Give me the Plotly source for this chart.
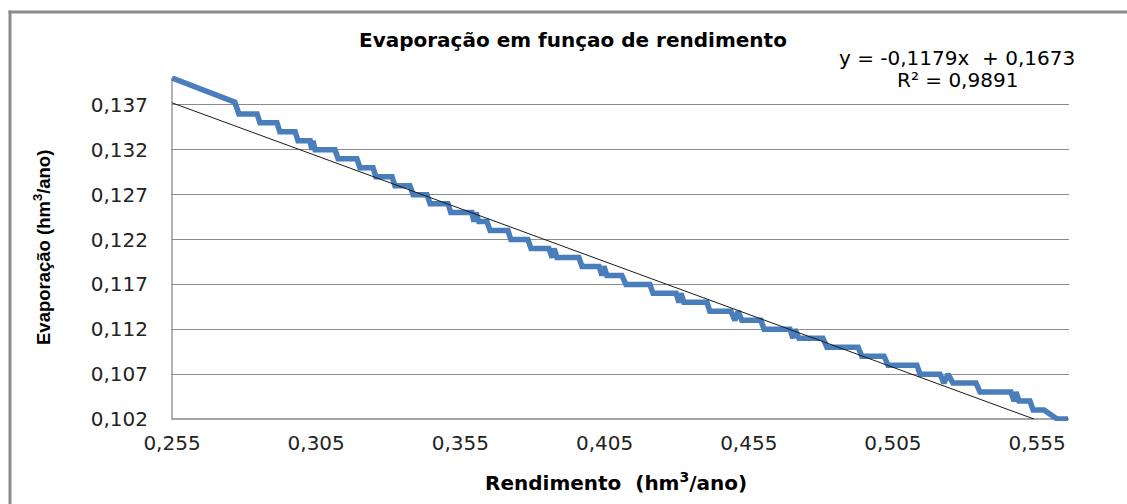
import plotly.graph_objects as go

# Rendimento (hm³/ano) vs evaporação (hm³/ano) along the simulated curve
rendimento = [
    0.2550, 0.2768, 0.2782, 0.2845, 0.2855, 0.2914, 0.2924, 0.2977, 0.2987,
    0.3029, 0.3035, 0.3039, 0.3046, 0.3115, 0.3126, 0.3191, 0.3202, 0.3247,
    0.3257, 0.3313, 0.3323, 0.3375, 0.3386, 0.3434, 0.3445, 0.3507, 0.3517,
    0.3590, 0.3597, 0.3604, 0.3614, 0.3642, 0.3653, 0.3715, 0.3725, 0.3784,
    0.3795, 0.3857, 0.3868, 0.3875, 0.3885, 0.3961, 0.3972, 0.4031, 0.4041,
    0.4048, 0.4058, 0.4110, 0.4124, 0.4207, 0.4218, 0.4298, 0.4308, 0.4315,
    0.4325, 0.4405, 0.4415, 0.4488, 0.4502, 0.4513, 0.4526, 0.4592, 0.4603,
    0.4693, 0.4703, 0.4710, 0.4724, 0.4807, 0.4821, 0.4929, 0.4942, 0.5019,
    0.5033, 0.5133, 0.5144, 0.5213, 0.5227, 0.5241, 0.5258, 0.5338, 0.5352,
    0.5459, 0.5470, 0.5477, 0.5487, 0.5525, 0.5536, 0.5574, 0.5619, 0.5657,
]
evaporacao = [
    0.1400, 0.1373, 0.1360, 0.1360, 0.1350, 0.1350, 0.1340, 0.1340, 0.1330,
    0.1330, 0.1320, 0.1330, 0.1320, 0.1320, 0.1310, 0.1310, 0.1300, 0.1300,
    0.1290, 0.1290, 0.1280, 0.1280, 0.1270, 0.1270, 0.1260, 0.1260, 0.1250,
    0.1250, 0.1240, 0.1250, 0.1240, 0.1240, 0.1230, 0.1230, 0.1220, 0.1220,
    0.1210, 0.1210, 0.1200, 0.1210, 0.1200, 0.1200, 0.1190, 0.1190, 0.1180,
    0.1190, 0.1180, 0.1180, 0.1170, 0.1170, 0.1160, 0.1160, 0.1150, 0.1160,
    0.1150, 0.1150, 0.1140, 0.1140, 0.1130, 0.1140, 0.1130, 0.1130, 0.1120,
    0.1120, 0.1110, 0.1120, 0.1110, 0.1110, 0.1100, 0.1100, 0.1090, 0.1090,
    0.1080, 0.1080, 0.1070, 0.1070, 0.1060, 0.1070, 0.1060, 0.1060, 0.1050,
    0.1050, 0.1040, 0.1050, 0.1040, 0.1040, 0.1030, 0.1030, 0.1020, 0.1020,
]

# Linear trend shown on the chart
trend_slope = -0.1179
trend_intercept = 0.1673
r_squared = 0.9891

x_ticks = [0.255, 0.305, 0.355, 0.405, 0.455, 0.505, 0.555]
x_ticktext = ["0,255", "0,305", "0,355", "0,405", "0,455", "0,505", "0,555"]
y_ticks = [0.102, 0.107, 0.112, 0.117, 0.122, 0.127, 0.132, 0.137]
y_ticktext = ["0,102", "0,107", "0,112", "0,117", "0,122", "0,127", "0,132", "0,137"]

W, H = 1127, 504
L, R, T, B = 171, 58, 76, 83
PW, PH = W - L - R, H - T - B


def px(x):
    return (x - L) / PW


def py(y):
    return (H - B - y) / PH


x_min, x_max = x_ticks[0], max(rendimento)
y_min, y_max = y_ticks[0], max(evaporacao)
x_pad = 1.0 * (x_max - x_min) / (PW - 2)
y_pad = 2.0 * (y_max - y_min) / (PH - 4)

# trend line over the data span, stopping where it meets the horizontal axis
trend_x = [x_min, min(x_max, (y_min - trend_intercept) / trend_slope)]
trend_y = [trend_slope * v + trend_intercept for v in trend_x]

eq_text = "y = {:.4f}x\u00a0 + {:.4f}".format(trend_slope, trend_intercept).replace(".", ",")
r2_text = "R² = {:.4f}".format(r_squared).replace(".", ",")

BASE = "DejaVu Sans"
FRAME = "#8a8a8a"

fig = go.Figure()
fig.add_trace(go.Scatter(
    x=rendimento, y=evaporacao, mode="lines",
    line=dict(color="#4a7ebb", width=5.5), showlegend=False, hoverinfo="skip",
))
fig.add_trace(go.Scatter(
    x=trend_x, y=trend_y, mode="lines",
    line=dict(color="#1a1a1a", width=1), showlegend=False, hoverinfo="skip",
))

fig.update_layout(
    width=W, height=H,
    margin=dict(l=L, r=R, t=T, b=B, pad=0),
    paper_bgcolor="white", plot_bgcolor="white",
    showlegend=False,
    xaxis=dict(
        range=[x_min - x_pad, x_max + x_pad],
        tickvals=x_ticks, ticktext=x_ticktext,
        showgrid=False, zeroline=False, showline=False,
        ticks="", ticklabelstandoff=8,
        tickfont=dict(family=BASE, size=20, color="#222"),
    ),
    yaxis=dict(
        range=[y_min - y_pad, y_max + y_pad],
        tickvals=y_ticks, ticktext=y_ticktext,
        showgrid=True, gridcolor="#8c8c8c", gridwidth=1,
        zeroline=False, showline=False,
        ticks="", ticklabelstandoff=22,
        tickfont=dict(family=BASE, size=20, color="#222"),
    ),
    shapes=[
        # outer chart frame: top and left edges as thin filled bands
        dict(type="rect", xref="paper", yref="paper",
             x0=px(8.5), y0=py(10.5), x1=px(W), y1=py(13.5),
             fillcolor=FRAME, line=dict(width=0), layer="below"),
        dict(type="rect", xref="paper", yref="paper",
             x0=px(8.5), y0=py(10.5), x1=px(11.5), y1=py(H),
             fillcolor=FRAME, line=dict(width=0), layer="below"),
        # horizontal axis line
        dict(type="line", xref="x", yref="y",
             x0=x_min - x_pad, x1=x_max + x_pad, y0=y_min, y1=y_min,
             line=dict(color="#a6a6a6", width=2), layer="between"),
        # vertical axis line
        dict(type="line", xref="x", yref="y",
             x0=x_min, x1=x_min, y0=y_min, y1=y_max,
             line=dict(color="#9a9a9a", width=1.5), layer="between"),
    ],
    annotations=[
        dict(text="<b>Evaporação em funçao de rendimento</b>",
             xref="paper", yref="paper", x=px(573), y=py(40),
             showarrow=False, xanchor="center", yanchor="middle",
             font=dict(family=BASE, size=20, color="black")),
        dict(text=eq_text, xref="paper", yref="paper", x=px(957), y=py(58),
             showarrow=False, xanchor="center", yanchor="middle",
             font=dict(family=BASE, size=20, color="black")),
        dict(text=r2_text, xref="paper", yref="paper", x=px(957), y=py(80),
             showarrow=False, xanchor="center", yanchor="middle",
             font=dict(family=BASE, size=20, color="black")),
        dict(text="<b>Rendimento\u00a0 (hm<sup>3</sup>/ano)</b>",
             xref="paper", yref="paper", x=px(616), y=py(482),
             showarrow=False, xanchor="center", yanchor="middle",
             font=dict(family=BASE, size=20, color="black")),
        dict(text="<b>Evaporação (hm<sup>3</sup>/ano)</b>",
             xref="paper", yref="paper", x=px(42), y=py(248),
             showarrow=False, xanchor="center", yanchor="middle", textangle=-90,
             font=dict(family="Liberation Sans", size=18.5, color="black")),
    ],
)

fig.write_html("out.html", config={"displayModeBar": False})
